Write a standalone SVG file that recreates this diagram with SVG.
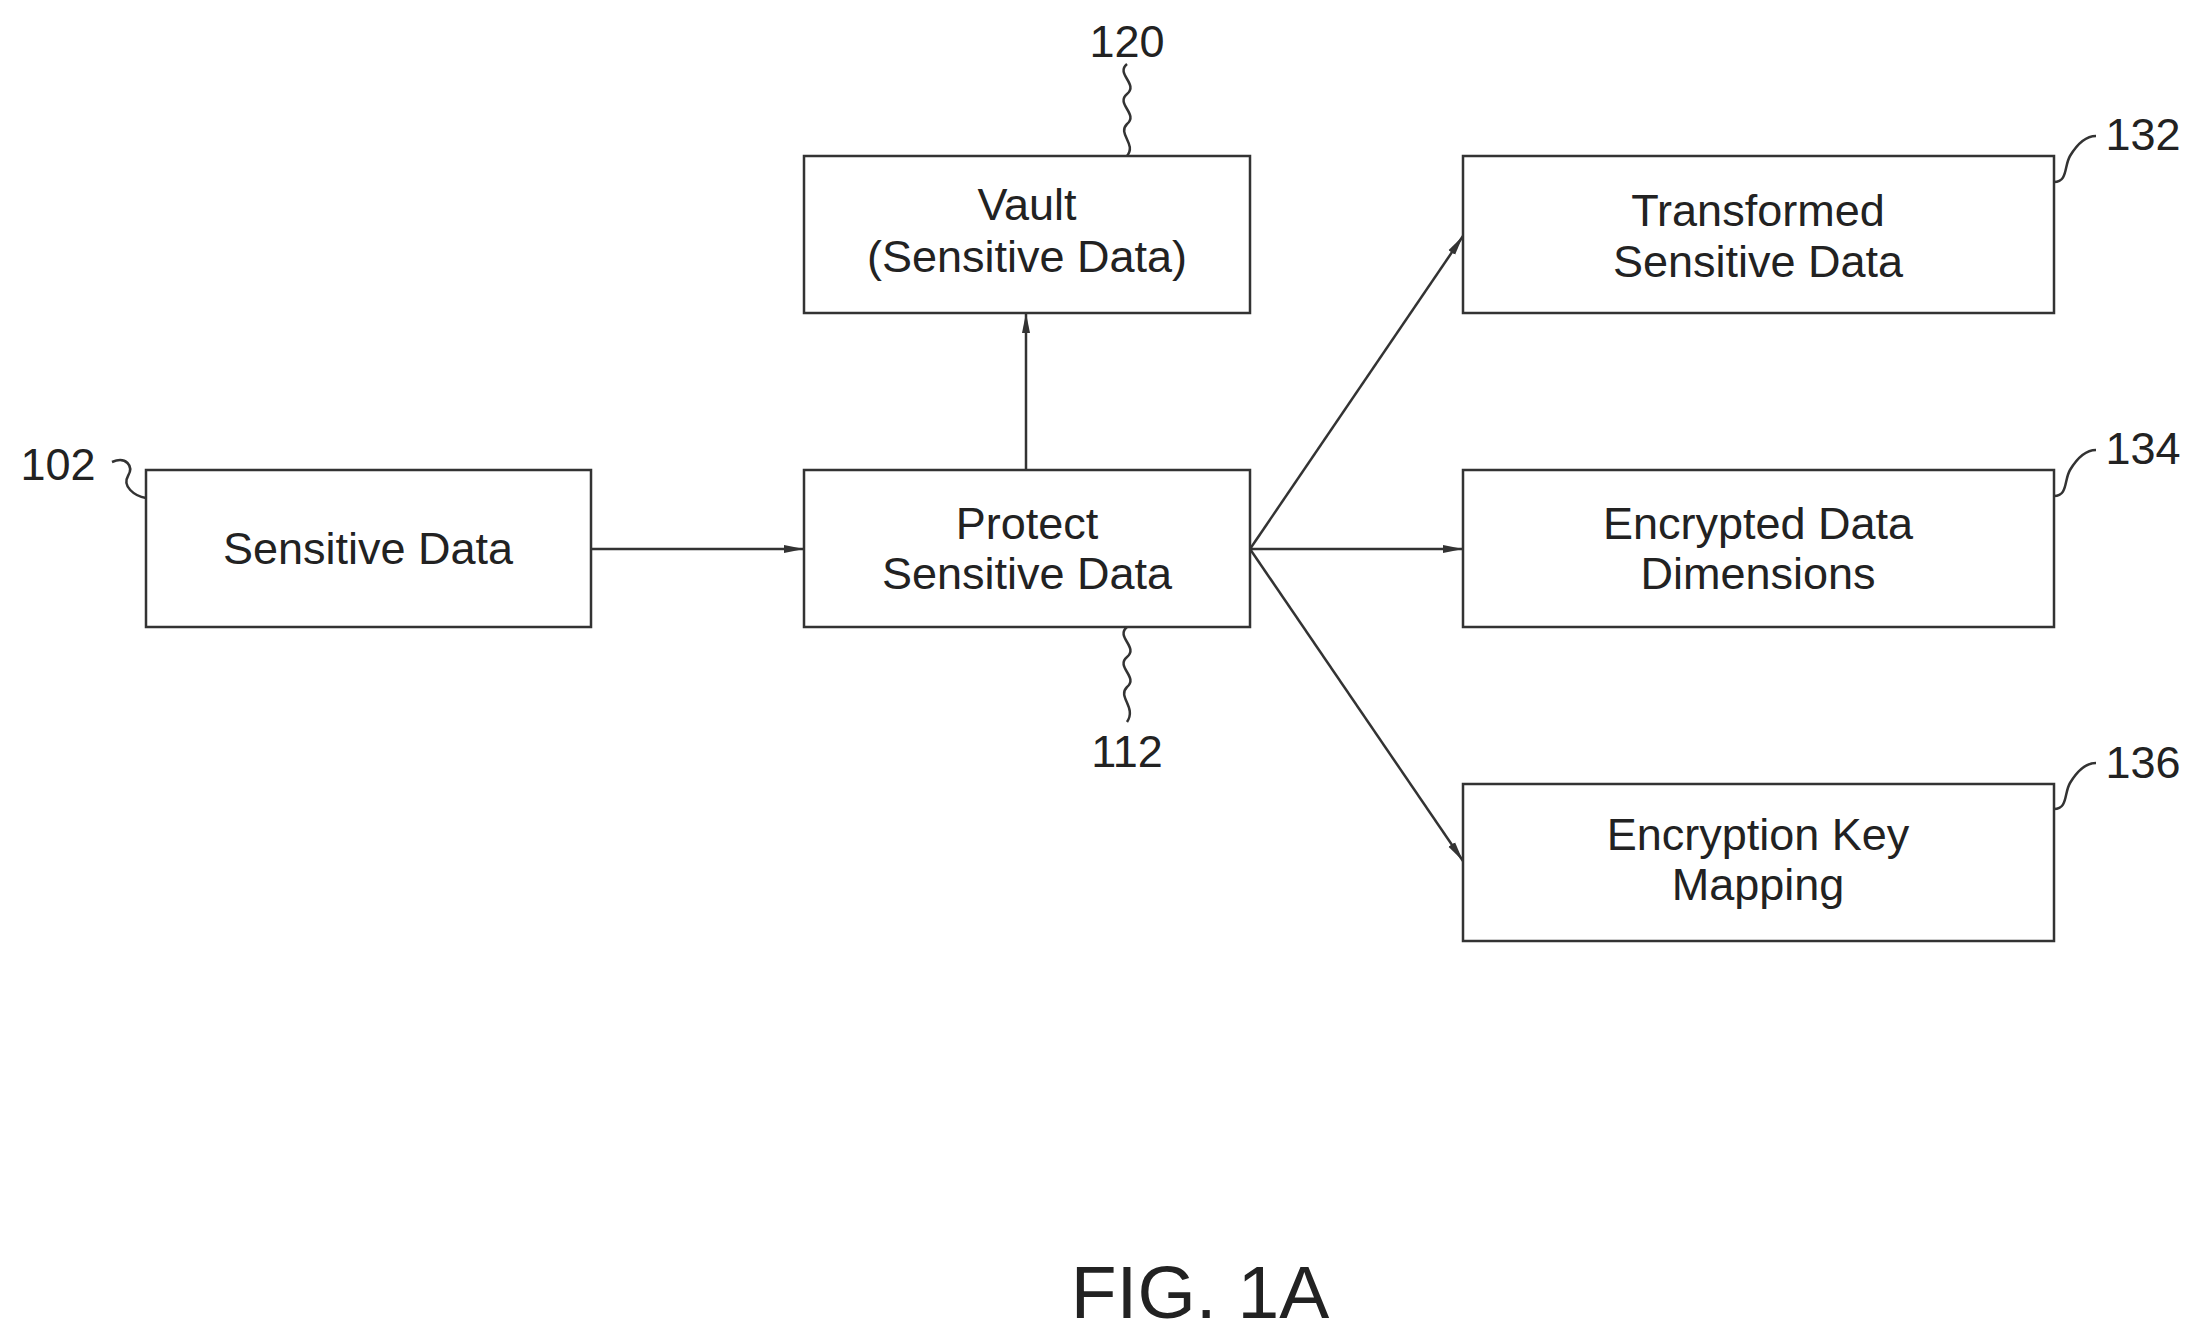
<svg xmlns="http://www.w3.org/2000/svg" width="2200" height="1342" viewBox="0 0 2200 1342">
<style>
.box{fill:#fff;stroke:#333;stroke-width:2.5}
.t{font-family:"Liberation Sans",Arial,sans-serif;font-size:45px;fill:#222;text-anchor:middle}
.e{stroke:#333;stroke-width:2.5;fill:none}
.l{stroke:#333;stroke-width:2.5;fill:none}
</style>
<defs><marker id="a" viewBox="0 0 20 10" refX="20" refY="5" markerWidth="20" markerHeight="10" markerUnits="userSpaceOnUse" orient="auto"><path d="M0,1 L20,5 L0,9 Z" fill="#333"/></marker></defs>
<rect width="2200" height="1342" fill="#fff"/>
<g id="connectors">
<line class="e" x1="591" y1="549" x2="804" y2="549" marker-end="url(#a)"/>
<line class="e" x1="1026" y1="470" x2="1026" y2="313" marker-end="url(#a)"/>
<line class="e" x1="1250" y1="549" x2="1463" y2="236" marker-end="url(#a)"/>
<line class="e" x1="1250" y1="549" x2="1463" y2="549" marker-end="url(#a)"/>
<line class="e" x1="1250" y1="549" x2="1463" y2="861" marker-end="url(#a)"/>
<path class="l" d="M1127,64 c-12,10 12,20 0,30 c-12,10 12,20 0,30 c-10,10 10,20 0,32"/>
<path class="l" d="M1127,627 c-12,10 12,20 0,30 c-12,10 12,20 0,30 c-10,10 10,20 0,35"/>
<path class="l" d="M112,462 c14,-6 22,4 16,14 c-6,10 6,20 18,22"/>
<path class="l" d="M2054,182 c14,0 10,-16 16,-26 c6,-10 14,-20 26,-20"/>
<path class="l" d="M2054,496 c14,0 10,-16 16,-26 c6,-10 14,-20 26,-20"/>
<path class="l" d="M2054,809 c14,0 10,-16 16,-26 c6,-10 14,-20 26,-20"/>
</g>
<g id="n102"><rect class="box" x="146" y="470" width="445" height="157"/><text class="t" x="368" y="564">Sensitive Data</text><text class="t" x="58" y="480">102</text></g>
<g id="n112"><rect class="box" x="804" y="470" width="446" height="157"/><text class="t" x="1027" y="539">Protect</text><text class="t" x="1027" y="589">Sensitive Data</text><text class="t" x="1127" y="767">112</text></g>
<g id="n120"><rect class="box" x="804" y="156" width="446" height="157"/><text class="t" x="1027" y="220">Vault</text><text class="t" x="1027" y="272">(Sensitive Data)</text><text class="t" x="1127" y="57">120</text></g>
<g id="n132"><rect class="box" x="1463" y="156" width="591" height="157"/><text class="t" x="1758" y="226">Transformed</text><text class="t" x="1758" y="277">Sensitive Data</text><text class="t" x="2143" y="150">132</text></g>
<g id="n134"><rect class="box" x="1463" y="470" width="591" height="157"/><text class="t" x="1758" y="539">Encrypted Data</text><text class="t" x="1758" y="589">Dimensions</text><text class="t" x="2143" y="464">134</text></g>
<g id="n136"><rect class="box" x="1463" y="784" width="591" height="157"/><text class="t" x="1758" y="850">Encryption Key</text><text class="t" x="1758" y="900">Mapping</text><text class="t" x="2143" y="778">136</text></g>
<text class="t" x="1200" y="1318" style="font-size:75px">FIG. 1A</text>
</svg>
